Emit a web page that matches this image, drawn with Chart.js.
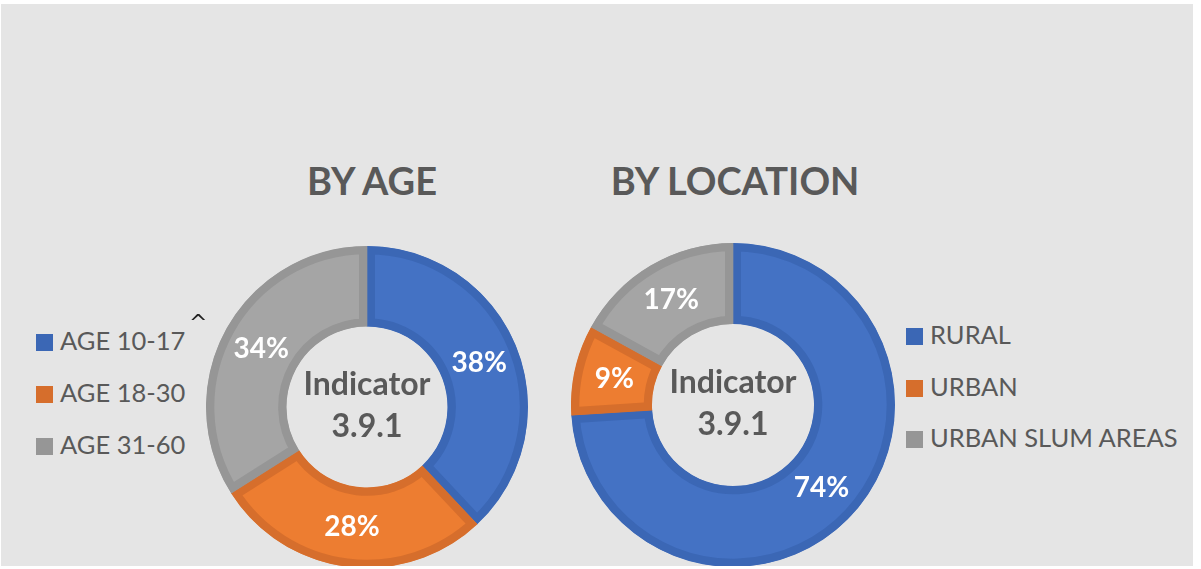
<!DOCTYPE html>
<html lang="en">
<head>
  <meta charset="UTF-8">
  <title>Indicator 3.9.1</title>
  <script src="https://cdn.jsdelivr.net/npm/chart.js"></script>
  <style>
    body { margin: 0; background: #fff; font-family: Lato, sans-serif; }
    #panel { position: absolute; left: 1px; top: 4px; width: 1192px; height: 562px; background: #e5e5e5; overflow: hidden; }
    .title { position: absolute; top: 153px; font-weight: bold; font-size: 38px; color: #595959; transform: translateX(-50%); white-space: nowrap; }
    .chartBox { position: absolute; }
    .legend { position: absolute; color: #595959; font-size: 25.5px; }
    .legend div { position: absolute; white-space: nowrap; line-height: 24px; }
    .legend span { display: inline-block; width: 17px; height: 17px; margin-right: 7px; vertical-align: -1px; }
    #caret { position: absolute; left: 188px; top: 306px; font-size: 22px; color: #222; font-family: "DejaVu Sans", sans-serif; }
  </style>
</head>
<body>
  <div id="panel">
    <div class="title" style="left:371px">BY AGE</div>
    <div class="title" style="left:734px">BY LOCATION</div>
    <div class="chartBox" style="left:205px;top:242px;width:322px;height:322px"><canvas id="ageChart"></canvas></div>
    <div class="chartBox" style="left:570px;top:239px;width:324px;height:324px"><canvas id="locChart"></canvas></div>
    <div class="legend" id="ageLegend" style="left:35px;top:0"></div>
    <div class="legend" id="locLegend" style="left:905px;top:0"></div>
    <div id="caret">^</div>
  </div>

  <script>
    const ageLabels = ['AGE 10-17', 'AGE 18-30', 'AGE 31-60'];
    const ageValues = [38, 28, 34];
    const locLabels = ['RURAL', 'URBAN', 'URBAN SLUM AREAS'];
    const locValues = [74, 9, 17];

    const fills = ['#4472c4', '#ed7d31', '#a5a5a5'];
    const borders = ['#3b67b5', '#d66e2c', '#969696'];

    // percentage labels on each slice + centre text
    const donutText = {
      id: 'donutText',
      afterDatasetsDraw(chart) {
        const ctx = chart.ctx;
        const meta = chart.getDatasetMeta(0);
        const data = chart.data.datasets[0].data;
        ctx.save();
        ctx.textAlign = 'center';
        ctx.textBaseline = 'middle';
        ctx.fillStyle = '#fff';
        ctx.font = 'bold 28px Lato';
        meta.data.forEach((arc, i) => {
          const p = arc.tooltipPosition();
          ctx.fillText(data[i] + '%', p.x, p.y);
        });
        const cx = meta.data[0].x, cy = meta.data[0].y;
        ctx.fillStyle = '#595959';
        ctx.font = 'bold 32px Lato';
        ctx.fillText('Indicator', cx, cy - 22);
        ctx.fillText('3.9.1', cx, cy + 20);
        ctx.restore();
      }
    };

    function makeDonut(id, labels, values) {
      return new Chart(document.getElementById(id), {
        type: 'doughnut',
        data: {
          labels: labels,
          datasets: [{
            data: values,
            backgroundColor: fills,
            borderColor: borders,
            borderWidth: 8,
            borderAlign: 'inner',
            hoverBorderWidth: 8
          }]
        },
        options: {
          responsive: true,
          maintainAspectRatio: false,
          animation: false,
          cutout: '50%',
          layout: { padding: 0 },
          plugins: { legend: { display: false }, tooltip: { enabled: false } }
        },
        plugins: [donutText]
      });
    }

    makeDonut('ageChart', ageLabels, ageValues);
    makeDonut('locChart', locLabels, locValues);

    function makeLegend(id, labels, tops) {
      const el = document.getElementById(id);
      labels.forEach((lab, i) => {
        const row = document.createElement('div');
        row.style.top = tops[i] + 'px';
        row.innerHTML = '<span style="background:' + borders[i] + '"></span>' + lab;
        el.appendChild(row);
      });
    }
    makeLegend('ageLegend', ageLabels, [324, 376, 428]);
    makeLegend('locLegend', locLabels, [318, 370, 421]);
  </script>
</body>
</html>
